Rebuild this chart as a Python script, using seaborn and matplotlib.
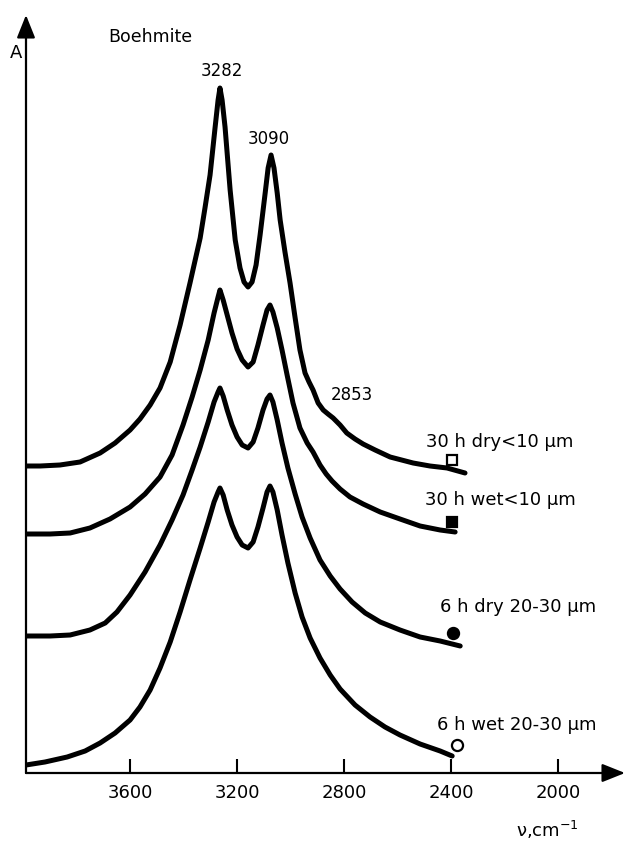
import matplotlib
matplotlib.use("Agg")
import matplotlib.pyplot as plt
import pandas as pd
import seaborn as sns

sns.set_style("white")
plt.rcParams['font.family'] = ['DejaVu Sans']
plt.rcParams['text.color'] = 'black'
plt.rcParams['xtick.color'] = 'black'

# ---- data (wavenumber cm-1, absorbance in arbitrary units) ----
wn_dry30 = [3989, 3936, 3862, 3787, 3712, 3656, 3600, 3563, 3525, 3488, 3450, 3413, 3376, 3338, 3320,
            3301, 3282, 3271, 3264, 3256, 3245, 3226, 3207, 3189, 3174, 3159, 3144, 3129, 3114, 3095,
            3084, 3073, 3062, 3050, 3039, 3021, 3002, 2983, 2965, 2946, 2931, 2916, 2897, 2878, 2860,
            2841, 2815, 2790, 2759, 2729, 2684, 2628, 2542, 2479, 2415, 2348]
a_dry30 = [3.07, 3.07, 3.08, 3.11, 3.20, 3.30, 3.43, 3.54, 3.68, 3.85, 4.11, 4.48, 4.90, 5.35, 5.65,
           5.98, 6.46, 6.73, 6.85, 6.73, 6.46, 5.83, 5.33, 5.05, 4.91, 4.86, 4.91, 5.08, 5.38, 5.80,
           6.05, 6.18, 6.05, 5.80, 5.53, 5.21, 4.90, 4.55, 4.23, 4.00, 3.91, 3.83, 3.70, 3.63, 3.59,
           3.55, 3.48, 3.40, 3.34, 3.29, 3.23, 3.16, 3.10, 3.07, 3.05, 3.00]

wn_wet30 = [3989, 3899, 3824, 3750, 3675, 3600, 3544, 3488, 3443, 3402, 3368, 3338, 3308, 3286, 3271,
            3264, 3252, 3237, 3219, 3200, 3181, 3159, 3140, 3122, 3103, 3088, 3077, 3066, 3050, 3032,
            3013, 2991, 2965, 2938, 2916, 2890, 2867, 2845, 2815, 2778, 2729, 2665, 2591, 2516, 2441,
            2385]
a_wet30 = [2.39, 2.39, 2.40, 2.45, 2.54, 2.66, 2.79, 2.96, 3.18, 3.48, 3.76, 4.03, 4.33, 4.60, 4.76,
           4.83, 4.73, 4.58, 4.40, 4.24, 4.13, 4.06, 4.11, 4.28, 4.48, 4.63, 4.68, 4.61, 4.45, 4.23,
           3.98, 3.70, 3.45, 3.30, 3.21, 3.08, 2.99, 2.92, 2.84, 2.76, 2.69, 2.61, 2.54, 2.47, 2.43,
           2.41]

wn_dry6 = [3989, 3899, 3824, 3750, 3693, 3649, 3600, 3544, 3488, 3443, 3402, 3368, 3338, 3308, 3286,
           3271, 3264, 3252, 3237, 3219, 3200, 3181, 3159, 3140, 3122, 3103, 3088, 3077, 3066, 3050,
           3032, 3010, 2983, 2957, 2927, 2890, 2852, 2815, 2770, 2721, 2665, 2591, 2516, 2441, 2366]
a_dry6 = [1.37, 1.37, 1.38, 1.43, 1.50, 1.61, 1.78, 2.01, 2.28, 2.53, 2.78, 3.03, 3.26, 3.51, 3.71,
          3.81, 3.85, 3.77, 3.63, 3.48, 3.36, 3.28, 3.25, 3.31, 3.45, 3.63, 3.74, 3.78, 3.71, 3.53,
          3.30, 3.05, 2.79, 2.56, 2.35, 2.13, 1.97, 1.84, 1.71, 1.60, 1.51, 1.43, 1.36, 1.32, 1.27]

wn_wet6 = [3989, 3918, 3835, 3768, 3712, 3656, 3600, 3563, 3525, 3488, 3450, 3413, 3376, 3338, 3308,
           3286, 3271, 3264, 3252, 3237, 3219, 3200, 3181, 3159, 3140, 3122, 3103, 3088, 3077, 3066,
           3050, 3032, 3010, 2983, 2957, 2927, 2890, 2852, 2815, 2759, 2703, 2647, 2591, 2516, 2441,
           2396]
a_wet6 = [0.08, 0.11, 0.16, 0.22, 0.30, 0.40, 0.53, 0.66, 0.83, 1.05, 1.31, 1.61, 1.93, 2.25, 2.51,
          2.71, 2.81, 2.85, 2.78, 2.63, 2.48, 2.36, 2.28, 2.25, 2.31, 2.46, 2.65, 2.81, 2.87, 2.81,
          2.63, 2.38, 2.10, 1.80, 1.56, 1.35, 1.15, 0.98, 0.84, 0.68, 0.56, 0.46, 0.38, 0.29, 0.22,
          0.17]

sample_labels = ["30 h dry<10 \u03bcm", "30 h wet<10 \u03bcm", "6 h dry 20-30 \u03bcm", "6 h wet 20-30 \u03bcm"]
label_wn = [2217, 2217, 2150, 2153]
label_a = [3.31, 2.73, 1.66, 0.48]
marker_wn = [2396, 2396, 2393, 2378]
marker_a = [3.13, 2.51, 1.40, 0.28]
marker_shape = ["s", "s", "o", "o"]
marker_filled = [False, True, True, False]

peak_labels = ["3282", "3090", "2853"]
peak_wn = [3256, 3080, 2770]
peak_a = [7.02, 6.34, 3.78]

xticks = [3600, 3200, 2800, 2400, 2000]

# ---- assemble ----
series = [(wn_dry30, a_dry30), (wn_wet30, a_wet30), (wn_dry6, a_dry6), (wn_wet6, a_wet6)]
df = pd.concat([pd.DataFrame({"wn": w, "A": a, "sample": lab})
                for (w, a), lab in zip(series, sample_labels)], ignore_index=True)

fig = plt.figure(figsize=(6.3, 8.42), dpi=100)
ax = fig.add_axes([26 / 630, 69 / 842, 599 / 630, 758 / 842])

sns.lineplot(data=df, x="wn", y="A", units="sample", estimator=None, sort=False,
             color="black", linewidth=3.6, ax=ax, legend=False,
             solid_capstyle="round", solid_joinstyle="round")

for wx, ay, m, f in zip(marker_wn, marker_a, marker_shape, marker_filled):
    ax.plot([wx], [ay], marker=m, markersize=7.5 if m == "s" else 8,
            markerfacecolor="black" if f else "white", markeredgecolor="black",
            markeredgewidth=1.6, linestyle="none")

for t, wx, ay in zip(sample_labels, label_wn, label_a):
    ax.text(wx, ay, t, ha="center", va="center", fontsize=13, color="black")
for t, wx, ay in zip(peak_labels, peak_wn, peak_a):
    ax.text(wx, ay, t, ha="center", va="center", fontsize=12, color="black")

ax.set_xlim(3989, 1750)
ax.set_ylim(0, 7.58)
for s in ax.spines.values():
    s.set_visible(False)

# axes drawn as arrows
ax.annotate("", xy=(1.0, 0), xytext=(0, 0), xycoords="axes fraction", textcoords="axes fraction",
            arrowprops=dict(arrowstyle="-|>,head_length=1.0,head_width=0.4", color="black",
                            lw=1.6, shrinkA=0, shrinkB=0, mutation_scale=14))
ax.annotate("", xy=(0, 1.0), xytext=(0, 0), xycoords="axes fraction", textcoords="axes fraction",
            arrowprops=dict(arrowstyle="-|>,head_length=1.0,head_width=0.4", color="black",
                            lw=1.6, shrinkA=0, shrinkB=0, mutation_scale=14))

ax.set_xticks(xticks)
ax.set_xticklabels([str(v) for v in xticks], fontsize=13, color="black")
ax.set_yticks([])
ax.tick_params(axis="x", direction="in", length=10, width=1.5, color="black", pad=8,
               bottom=True, top=False)
ax.set_xlabel("")
ax.set_ylabel("")

fig.text(16 / 630, 1 - 53 / 842, "A", ha="center", va="center", fontsize=13, color="black")
fig.text(150 / 630, 1 - 37 / 842, "Boehmite", ha="center", va="center", fontsize=12.5, color="black")
fig.text(547 / 630, 1 - 830 / 842, "\u03bd,cm$^{-1}$", ha="center", va="center", fontsize=13, color="black")

fig.savefig("out.png", dpi=100)
